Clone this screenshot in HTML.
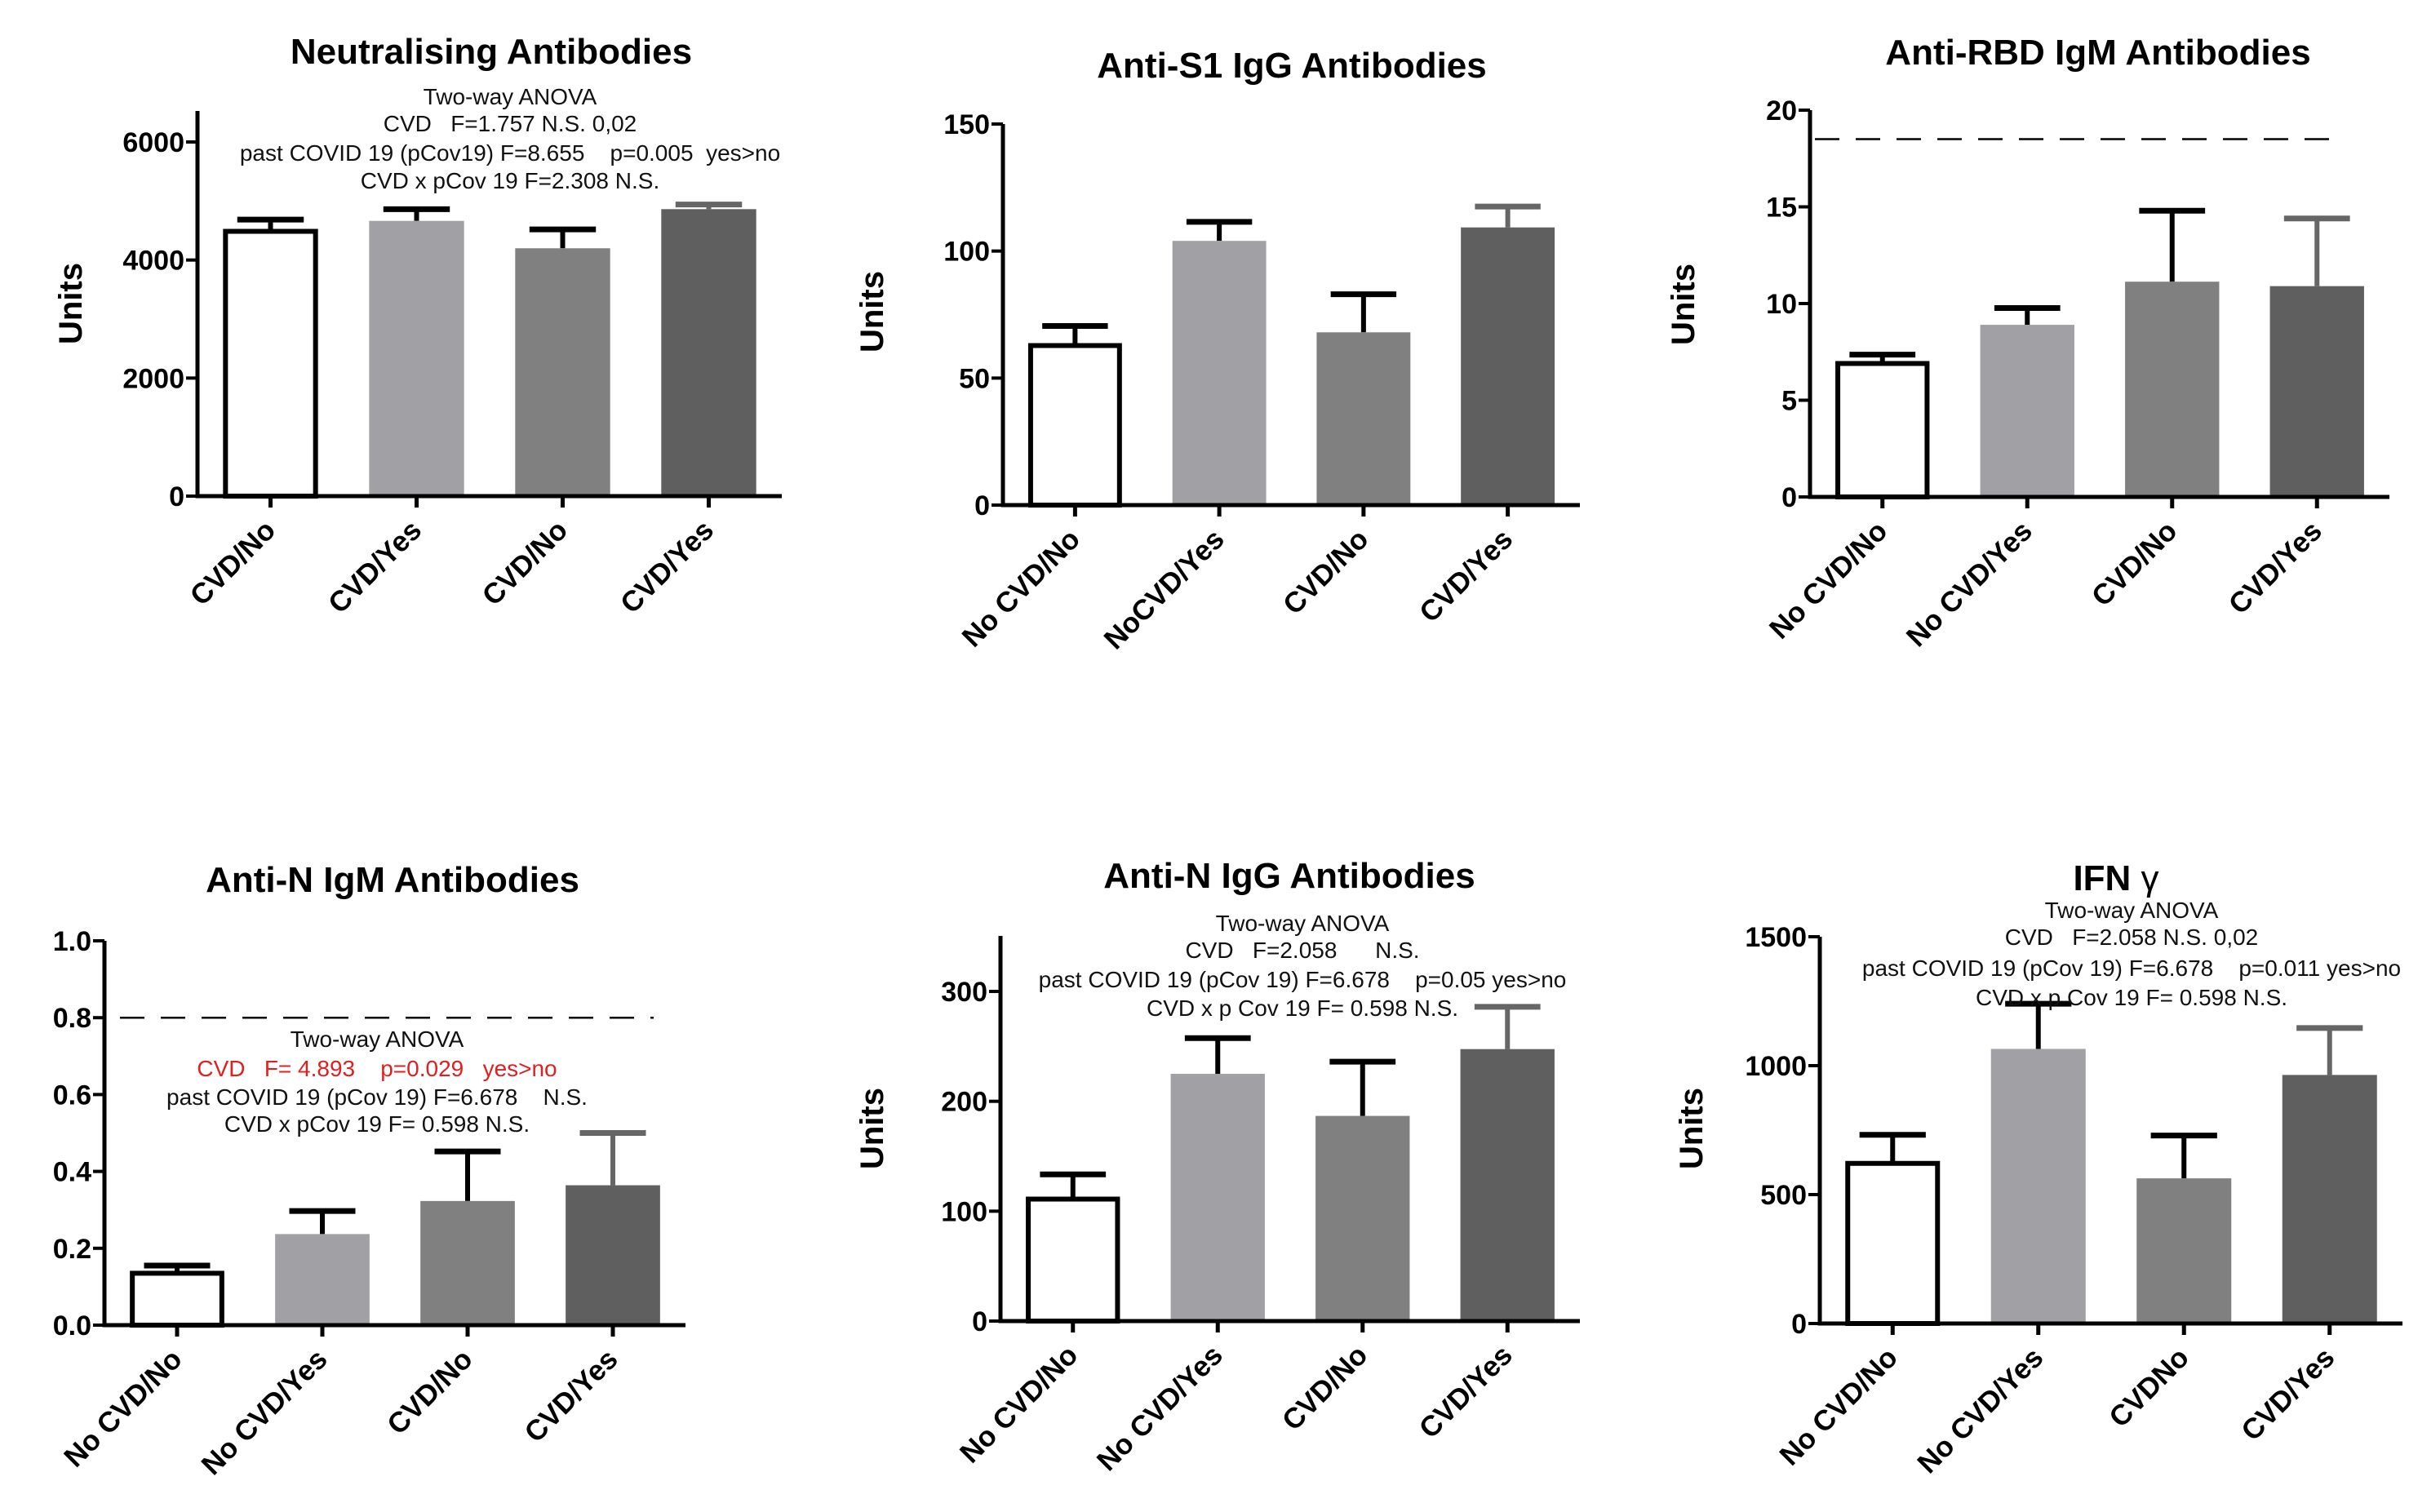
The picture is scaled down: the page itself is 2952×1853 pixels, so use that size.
<!DOCTYPE html>
<html><head><meta charset="utf-8"><style>
html,body{margin:0;padding:0;background:#fff;}
svg{display:block;font-family:"Liberation Sans",Arial,sans-serif;}
</style></head><body>
<svg id="fig" width="2952" height="1853" viewBox="0 0 2952 1853" xmlns="http://www.w3.org/2000/svg"></svg>
<script>
// ---- Data ----
const neutCategories = ["CVD/No","CVD/Yes","CVD/No","CVD/Yes"];
const neutMeans = [4486, 4663, 4199, 4862];
const neutErrs = [4685, 4862, 4519, 4940];
const neutTicks = [0, 2000, 4000, 6000];
const neutTickLabels = ["0","2000","4000","6000"];

const s1Categories = ["No CVD/No","NoCVD/Yes","CVD/No","CVD/Yes"];
const s1Means = [62.8, 104, 68, 109.3];
const s1Errs = [70.5, 111.5, 83, 117.5];
const s1Ticks = [0, 50, 100, 150];
const s1TickLabels = ["0","50","100","150"];

const rbdCategories = ["No CVD/No","No CVD/Yes","CVD/No","CVD/Yes"];
const rbdMeans = [6.9, 8.9, 11.13, 10.9];
const rbdErrs = [7.36, 9.77, 14.8, 14.4];
const rbdTicks = [0, 5, 10, 15, 20];
const rbdTickLabels = ["0","5","10","15","20"];
const rbdCutoff = [18.5];

const nigmCategories = ["No CVD/No","No CVD/Yes","CVD/No","CVD/Yes"];
const nigmMeans = [0.135, 0.237, 0.323, 0.364];
const nigmErrs = [0.155, 0.297, 0.452, 0.50];
const nigmTicks = [0, 0.2, 0.4, 0.6, 0.8, 1.0];
const nigmTickLabels = ["0.0","0.2","0.4","0.6","0.8","1.0"];
const nigmCutoff = [0.8];

const niggCategories = ["No CVD/No","No CVD/Yes","CVD/No","CVD/Yes"];
const niggMeans = [111, 225, 186.7, 247.5];
const niggErrs = [133.5, 257.5, 236, 286];
const niggTicks = [0, 100, 200, 300];
const niggTickLabels = ["0","100","200","300"];

const ifnCategories = ["No CVD/No","No CVD/Yes","CVDNo","CVD/Yes"];
const ifnMeans = [621, 1065, 563, 964];
const ifnErrs = [732, 1240, 729, 1146];
const ifnTicks = [0, 500, 1000, 1500];
const ifnTickLabels = ["0","500","1000","1500"];

const svg = document.getElementById('fig');
const NS = "http://www.w3.org/2000/svg";
function mk(tag, attrs, parent){
  const e = document.createElementNS(NS, tag);
  for (const k in attrs) e.setAttribute(k, attrs[k]);
  (parent||svg).appendChild(e);
  return e;
}
const fills = ["#ffffff","#a1a1a5","#808080","#5f5f5f"];
const errCols = ["#000","#000","#000","#666"];

function panel(p){
  const g = mk('g', {});
  
  
  const yScale = v => p.y0 - (v - p.vmin) / (p.vmax - p.vmin) * (p.y0 - p.yTopPx);
  const slot = (p.xEnd - p.x0) / 4;
  const bw = slot * 0.65;
  const t = mk('text', {x:p.tx, y:p.ty, 'text-anchor':'middle', 'font-size':44, 'font-weight':'bold'}, g);
  
  
  t.textContent = p.title;
  if (p.titleExtra){ const ts = mk('tspan', {'font-weight':'normal'}, t); ts.textContent = p.titleExtra; }
  if (p.ux){
    const u = mk('text', {x:p.ux, y:p.uy, 'text-anchor':'middle', 'font-size':40, 'font-weight':'bold', transform:`rotate(-90 ${p.ux} ${p.uy})`}, g);
    
    
    u.textContent = "Units";
  }
  if (p.cutoff){
    const cy = yScale(p.cutoff[0]);
    const dl = mk('line', {x1:p.dx1, x2:p.dx2, y1:cy, y2:cy, stroke:'#000', 'stroke-width':2.5, 'stroke-dasharray':'30 20'}, g);
    
    
  }
  p.means.forEach((m, i) => {
    const cx = p.x0 + (i + 0.5) * slot;
    const top = yScale(m), et = yScale(p.errs[i]);
    const ec = errCols[i];
    const el = mk('line', {x1:cx, x2:cx, y1:top, y2:et, stroke:ec, 'stroke-width':6}, g);
    
    
    const cap = mk('line', {x1:cx - bw*0.35, x2:cx + bw*0.35, y1:et, y2:et, stroke:ec, 'stroke-width':7}, g);
    
    
    let r;
    if (i === 0) r = mk('rect', {x:cx - bw/2 + 3, y:top, width:bw - 6, height:p.y0 - top, fill:'#fff', stroke:'#000', 'stroke-width':6}, g);
    else r = mk('rect', {x:cx - bw/2, y:top, width:bw, height:p.y0 - top, fill:fills[i]}, g);
    
    
    mk('line', {x1:cx, x2:cx, y1:p.y0, y2:p.y0 + 14, stroke:'#000', 'stroke-width':5}, g);
    const lx = cx + 8, ly = p.y0 + 44;
    const xl = mk('text', {x:lx, y:ly, 'text-anchor':'end', 'font-size':35, 'font-weight':'bold', transform:`rotate(-45 ${lx} ${ly})`}, g);
    
    
    xl.textContent = p.cats[i];
  });
  const ya = mk('line', {x1:p.x0, x2:p.x0, y1:p.axTop, y2:p.y0 + 2.5, stroke:'#000', 'stroke-width':5}, g);
  
  
  const xa = mk('line', {x1:p.x0 - 2.5, x2:p.xEnd, y1:p.y0, y2:p.y0, stroke:'#000', 'stroke-width':5}, g);
  
  
  p.ticks.forEach((v, i) => {
    const y = yScale(v);
    mk('line', {x1:p.x0 - 14, x2:p.x0, y1:y, y2:y, stroke:'#000', 'stroke-width':4}, g);
    const tl = mk('text', {x:p.x0 - 16, y:y + 12, 'text-anchor':'end', 'font-size':34, 'font-weight':'bold'}, g);
    
    
    tl.textContent = p.tickLabels[i];
  });
  if (p.anova){
    p.anova.forEach((ln, i) => {
      const a = mk('text', {x:p.ax, y:p.ay[i] + 10, 'text-anchor':'middle', 'font-size':28, fill:ln[1] || '#111'}, g);
      
      
      a.style.whiteSpace = 'pre';
      a.textContent = ln[0];
    });
  }
}

panel({name:'neutralising-antibodies-chart', title:'Neutralising Antibodies', tx:602, ty:78, ux:100, uy:372,
  x0:242, xEnd:958, y0:608, yTopPx:174, vmin:0, vmax:6000, axTop:136,
  means:neutMeans, errs:neutErrs, cats:neutCategories, ticks:neutTicks, tickLabels:neutTickLabels,
  ax:625, ay:[118,151,187,221],
  anova:[["Two-way ANOVA"],["CVD   F=1.757 N.S. 0,02"],["past COVID 19 (pCov19) F=8.655    p=0.005  yes>no"],["CVD x pCov 19 F=2.308 N.S."]]});

panel({name:'anti-s1-igg-chart', title:'Anti-S1 IgG Antibodies', tx:1583, ty:95, ux:1082, uy:382,
  x0:1229, xEnd:1936, y0:619, yTopPx:152, vmin:0, vmax:150, axTop:152,
  means:s1Means, errs:s1Errs, cats:s1Categories, ticks:s1Ticks, tickLabels:s1TickLabels});

panel({name:'anti-rbd-igm-chart', title:'Anti-RBD IgM  Antibodies', tx:2571, ty:79, ux:2076, uy:373,
  x0:2218, xEnd:2928, y0:609, yTopPx:135, vmin:0, vmax:20, axTop:135,
  means:rbdMeans, errs:rbdErrs, cats:rbdCategories, ticks:rbdTicks, tickLabels:rbdTickLabels,
  cutoff:rbdCutoff, dx1:2224, dx2:2872});

panel({name:'anti-n-igm-chart', title:'Anti-N IgM Antibodies', tx:481, ty:1093,
  x0:128, xEnd:840, y0:1624, yTopPx:1153, vmin:0, vmax:1.0, axTop:1153,
  means:nigmMeans, errs:nigmErrs, cats:nigmCategories, ticks:nigmTicks, tickLabels:nigmTickLabels,
  cutoff:nigmCutoff, dx1:147, dx2:801,
  ax:462, ay:[1273,1309,1344,1377],
  anova:[["Two-way ANOVA"],["CVD   F= 4.893    p=0.029   yes>no","#e02020"],["past COVID 19 (pCov 19) F=6.678    N.S."],["CVD x pCov 19 F= 0.598 N.S."]]});

panel({name:'anti-n-igg-chart', title:'Anti-N IgG Antibodies', tx:1580, ty:1088, ux:1082, uy:1383,
  x0:1226, xEnd:1936, y0:1619, yTopPx:1215, vmin:0, vmax:300, axTop:1147,
  means:niggMeans, errs:niggErrs, cats:niggCategories, ticks:niggTicks, tickLabels:niggTickLabels,
  ax:1596, ay:[1131,1164,1200,1235],
  anova:[["Two-way ANOVA"],["CVD   F=2.058      N.S."],["past COVID 19 (pCov 19) F=6.678    p=0.05 yes>no"],["CVD x p Cov 19 F= 0.598 N.S."]]});

panel({name:'ifn-gamma-chart', title:'IFN ', titleExtra:'γ', tx:2593, ty:1091, ux:2086, uy:1383,
  x0:2230, xEnd:2944, y0:1622, yTopPx:1148, vmin:0, vmax:1500, axTop:1148,
  means:ifnMeans, errs:ifnErrs, cats:ifnCategories, ticks:ifnTicks, tickLabels:ifnTickLabels,
  ax:2612, ay:[1115,1148,1186,1222],
  anova:[["Two-way ANOVA"],["CVD   F=2.058 N.S. 0,02"],["past COVID 19 (pCov 19) F=6.678    p=0.011 yes>no"],["CVD x p Cov 19 F= 0.598 N.S."]]});
</script>
</body></html>
